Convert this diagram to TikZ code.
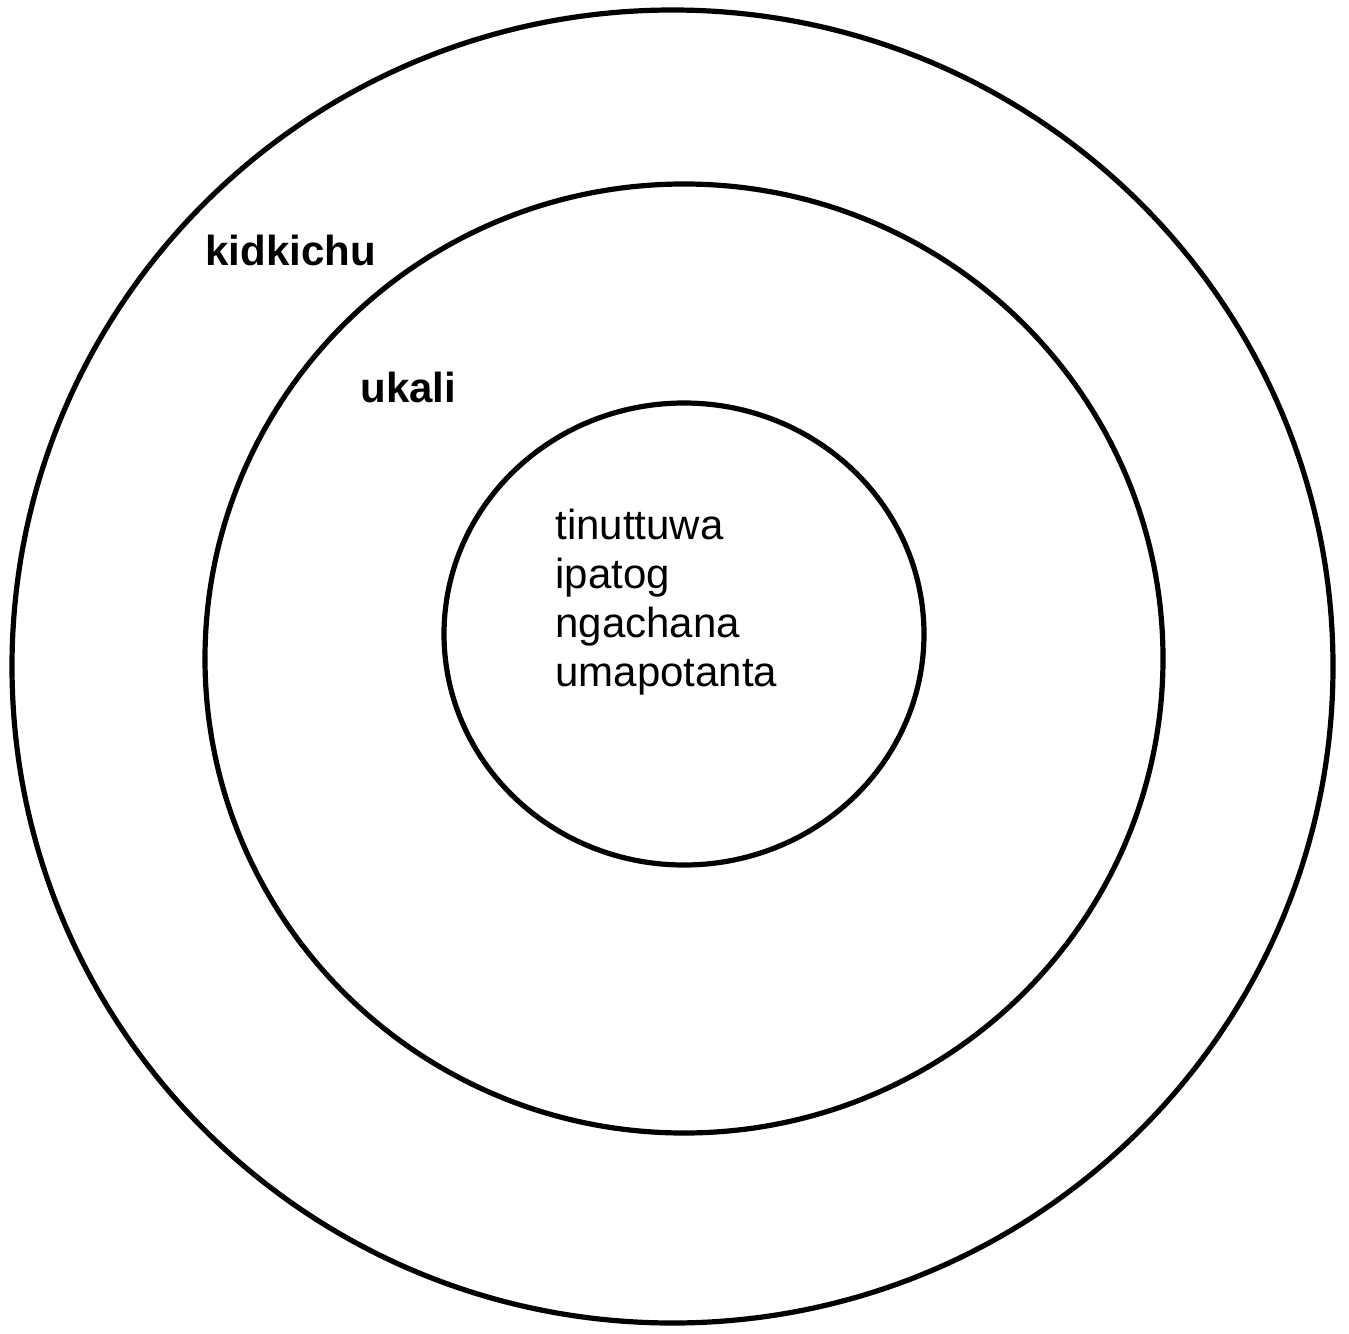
\documentclass[tikz,border=0pt]{standalone}
\usepackage{fontspec}
\setmainfont{Liberation Sans}
\usepackage{tikz}

\begin{document}
\begin{tikzpicture}[x=0.5pt,y=-0.5pt,
    ring/.style={line width=2.6pt},
    layer/.style={font=\fontsize{21}{24.5}\selectfont\bfseries, inner sep=0pt, anchor=base west},
    core/.style={font=\fontsize{21}{24.5}\selectfont, inner sep=0pt, align=left, anchor=base west}]
    \useasboundingbox (0,0) rectangle (1349,1333);
    \coordinate (outerc) at (672.5,666.5);
    \coordinate (midc) at (684,658.5);
    \coordinate (innerc) at (684,634);
    \draw[ring] (outerc) ellipse [x radius=660.5, y radius=656.5];
    \draw[ring] (midc) ellipse [x radius=479, y radius=474.5];
    \draw[ring] (innerc) ellipse [x radius=240, y radius=231];
    \node[layer] (kidkichu) at (205,265) {kidkichu};
    \node[layer] (ukali) at (360,402) {ukali};
    % base anchor sits on the last line
    \node[core] (items) at (555,686) {tinuttuwa\\ipatog\\ngachana\\umapotanta};
\end{tikzpicture}
\end{document}
